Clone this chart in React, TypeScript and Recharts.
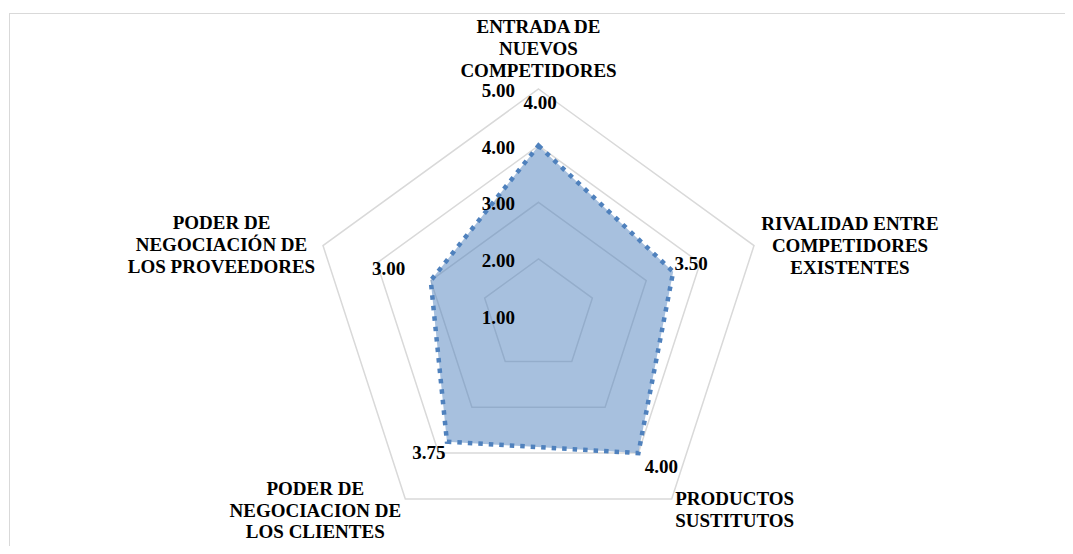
import { RadarChart, Radar, PolarGrid, PolarAngleAxis, PolarRadiusAxis } from 'recharts';

const categories = [
  'ENTRADA DE\nNUEVOS\nCOMPETIDORES',
  'RIVALIDAD ENTRE\nCOMPETIDORES\nEXISTENTES',
  'PRODUCTOS\nSUSTITUTOS',
  'PODER DE\nNEGOCIACION DE\nLOS CLIENTES',
  'PODER DE\nNEGOCIACIÓN DE\nLOS PROVEEDORES',
];
const scores = [4.0, 3.5, 4.0, 3.75, 3.0];
const radiusTicks = [1, 2, 3, 4, 5];

const data = categories.map((name, i) => ({ name, value: scores[i] }));

const FONT = "'Liberation Serif', 'Times New Roman', Times, serif";
const LINE_H = 21.8;
const textStyle = { fontFamily: FONT, fontWeight: 700, fontSize: 19 };

// where each category block sits relative to its outer vertex (block centre x, first line y)
const catLayout = [
  { dx: 0, dy: -19 - 2 * LINE_H },
  { dx: 96, dy: -LINE_H },
  { dx: 63, dy: 0 },
  { dx: -90, dy: -10.7 },
  { dx: -101.5, dy: -22.6 },
];

// data label offsets from each point
const valueLayout = [
  { dx: 1.5, dy: -43 },
  { dx: 18, dy: -8 },
  { dx: 23, dy: 13 },
  { dx: -18, dy: 11 },
  { dx: -42, dy: -12 },
];

const CategoryTick = (props: any) => {
  const { x, y, payload, index } = props;
  const ang = ((payload?.coordinate ?? 0) * Math.PI) / 180;
  const vx = x - 8 * Math.cos(ang);
  const vy = y + 8 * Math.sin(ang);
  const lay = catLayout[index] ?? { dx: 0, dy: 0 };
  const lines = String(payload.value).split('\n');
  return (
    <g>
      {lines.map((line, i) => (
        <text
          key={i}
          x={vx + lay.dx}
          y={vy + lay.dy + i * LINE_H}
          textAnchor="middle"
          dominantBaseline="central"
          style={textStyle}
          fill="#000"
        >
          {line}
        </text>
      ))}
    </g>
  );
};

const RadiusTick = (props: any) => {
  const { x, y, payload } = props;
  return (
    <text
      x={x - 23.5}
      y={y + 1.5}
      textAnchor="end"
      dominantBaseline="central"
      style={textStyle}
      fill="#000"
    >
      {Number(payload.value).toFixed(2)}
    </text>
  );
};

const ValueLabel = (props: any) => {
  const x = props.x ?? props.viewBox?.x;
  const y = props.y ?? props.viewBox?.y;
  const index = props.index ?? 0;
  const lay = valueLayout[index] ?? { dx: 0, dy: 0 };
  if (x == null || y == null) return null;
  return (
    <text
      x={x + lay.dx}
      y={y + lay.dy}
      textAnchor="middle"
      dominantBaseline="central"
      style={textStyle}
      fill="#000"
    >
      {Number(props.value).toFixed(2)}
    </text>
  );
};

export default function App() {
  return (
    <div style={{ position: 'relative', width: 1057, height: 538, overflow: 'hidden', fontFamily: FONT }}>
      <div
        style={{
          position: 'absolute',
          left: 1,
          top: 5,
          width: 2000,
          height: 2000,
          border: '1px solid #d9d9d9',
        }}
      />
      <div style={{ position: 'absolute', left: 0, top: 0 }}>
        <RadarChart
          width={1057}
          height={538}
          data={data}
          cx={530.5}
          cy={307.6}
          outerRadius={226.6}
          margin={{ top: 0, right: 0, bottom: 0, left: 0 }}
        >
          <PolarGrid gridType="polygon" radialLines={false} stroke="#d9d9d9" strokeWidth={1.5} />
          <PolarAngleAxis dataKey="name" tick={CategoryTick} axisLine={false} tickLine={false} />
          <Radar
            dataKey="value"
            stroke="#4F81BD"
            strokeWidth={4.5}
            strokeDasharray="4.5 6"
            fill="#4F81BD"
            fillOpacity={0.5}
            dot={false}
            label={ValueLabel}
            isAnimationActive={false}
          />
          <PolarRadiusAxis
            angle={90}
            domain={[1, 5]}
            ticks={radiusTicks as any}
            tickCount={5}
            axisLine={false}
            tickLine={false}
            tick={RadiusTick}
          />
        </RadarChart>
      </div>
    </div>
  );
}
